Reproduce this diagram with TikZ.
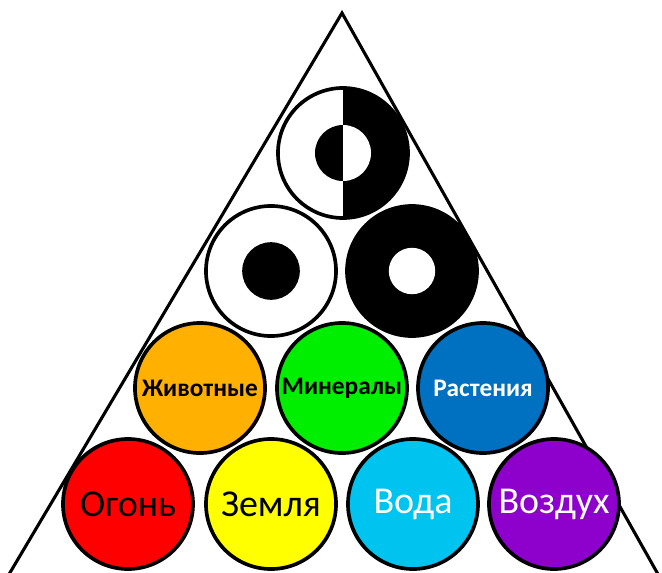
\documentclass[tikz,border=0pt]{standalone}
\usepackage{fontspec}
\setmainfont{Carlito}
\usetikzlibrary{positioning}
\definecolor{fireball}{HTML}{FF0000}
\definecolor{earthball}{HTML}{FFFF00}
\definecolor{waterball}{HTML}{00C4F0}
\definecolor{airball}{HTML}{8E00CC}
\definecolor{animalball}{HTML}{FFB000}
\definecolor{mineralball}{HTML}{00EE00}
\definecolor{plantball}{HTML}{0070C0}

\begin{document}
\begin{tikzpicture}[
  x=0.025cm, y=-0.025cm,
  ball/.style={circle, draw=black, line width=2.6pt, fill=#1,
               minimum size=3.25cm, inner sep=0pt},
  bigtxt/.style={font=\fontsize{27}{29}\selectfont},
  smalltxt/.style={font=\bfseries\fontsize{18}{20}\selectfont},
  side/.style={line width=2.2pt},
  dotball/.style={ball=white, path picture={
      \fill[black] (path picture bounding box.center) circle[radius=0.72cm];}},
  holeball/.style={ball=black, path picture={
      \fill[white] (path picture bounding box.center) circle[radius=0.58cm];}},
  halfball/.style={ball=white, path picture={
      \fill[black] (path picture bounding box.north)
        rectangle (path picture bounding box.south east);
      \fill[black] (path picture bounding box.center) circle[radius=0.7cm];
      \begin{scope}
        \clip (path picture bounding box.north)
          rectangle (path picture bounding box.south east);
        \fill[white] (path picture bounding box.center) circle[radius=0.7cm];
      \end{scope}}}
]
\useasboundingbox (0,0) rectangle (662,572);
\clip (0,0) rectangle (662,572);

%% ── Triangle ───────────────────────────────────────────────────
\draw[side] (8,576) -- (342,13) -- (659,576);

%% ── Top rows ───────────────────────────────────────────────────
\node[halfball] (spirit) at (343,153) {};
\node[dotball]  (soul)   at (271,271) {};
\node[holeball] (body)   at (412,271) {};

%% ── Kingdoms ───────────────────────────────────────────────────
\node[ball=animalball,  smalltxt]              (animals)  at (200,388) {Животные};
\node[ball=mineralball, smalltxt]              (minerals) at (342,388) {Минералы};
\node[ball=plantball,   smalltxt, text=white]  (plants)   at (483,388) {Растения};

%% ── Elements ───────────────────────────────────────────────────
\node[ball=fireball,  bigtxt]             (fire)  at (128,504) {Огонь};
\node[ball=earthball, bigtxt]             (earth) at (271,504) {Земля};
\node[ball=waterball, bigtxt, text=white] (water) at (413,504) {Вода};
\node[ball=airball,   bigtxt, text=white] (air)   at (554,504) {Воздух};

\end{tikzpicture}
\end{document}
